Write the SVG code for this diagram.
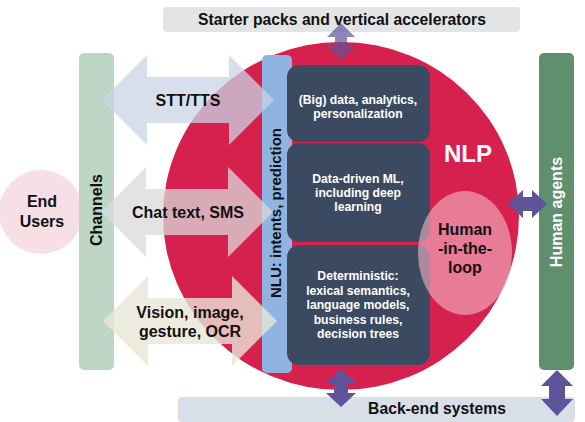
<svg xmlns="http://www.w3.org/2000/svg" width="585" height="422" viewBox="0 0 585 422">
<style>
text{font-family:"Liberation Sans",Arial,sans-serif;font-weight:bold;text-anchor:middle}
.lbl{font-size:15.7px;fill:#111}
.box{fill:#3c4a61}
.bt{font-size:12.2px;fill:#fff}
.pa{fill:#5f5499}
.big{font-size:16px;fill:#111}
</style>
<rect width="585" height="422" fill="#fff"/>
<g id="starter"><rect x="163" y="7" width="357" height="25" rx="4" fill="#e3e4e6"/><text class="lbl" x="342" y="25">Starter packs and vertical accelerators</text></g>
<g id="backend"><rect x="178" y="397" width="397" height="25" rx="4" fill="#d8dfe8"/><text class="lbl" x="437" y="414">Back-end systems</text></g>
<g id="nlp"><ellipse cx="341" cy="216" rx="178" ry="174" fill="#d6214f"/><text x="468" y="162" font-size="24" fill="#fff">NLP</text></g>
<g id="nlu"><rect x="262" y="55" width="30" height="318" rx="5" fill="#8fb4e2"/><text class="lbl" font-size="15" style="font-size:15px" transform="translate(281,213) rotate(-90)">NLU: intents, prediction</text></g>
<g id="box1"><rect class="box" x="287" y="65" width="143" height="77" rx="12"/><text class="bt" x="358" y="104">(Big) data, analytics,</text><text class="bt" x="358" y="118">personalization</text></g>
<g id="box2"><rect class="box" x="287" y="143" width="143" height="99" rx="12"/><text class="bt" x="358" y="183">Data-driven ML,</text><text class="bt" x="358" y="197">including deep</text><text class="bt" x="358" y="211">learning</text></g>
<g id="box3"><rect class="box" x="287" y="245" width="143" height="120" rx="12"/><text class="bt" x="358" y="280">Deterministic:</text><text class="bt" x="358" y="295">lexical semantics,</text><text class="bt" x="358" y="309">language models,</text><text class="bt" x="358" y="324">business rules,</text><text class="bt" x="358" y="338">decision trees</text></g>
<g id="hitl"><ellipse cx="465" cy="253" rx="47" ry="62" fill="#f4b8c6" opacity="0.6"/><text class="big" x="465" y="235">Human</text><text class="big" x="465" y="254">-in-the-</text><text class="big" x="465" y="273">loop</text></g>
<g id="users"><circle cx="41" cy="212" r="42" fill="#f6dfe5"/><text class="big" x="42" y="207">End</text><text class="big" x="42" y="227">Users</text></g>
<g id="channels"><rect x="79" y="53" width="35" height="317" rx="5" fill="#bed6c5"/><text class="lbl" style="font-size:16px" transform="translate(102,210) rotate(-90)">Channels</text></g>
<g id="agents"><rect x="539" y="53" width="35" height="317" rx="5" fill="#5f8f6d"/><text class="lbl" style="fill:#fff;font-size:16px" transform="translate(562,212) rotate(-90)">Human agents</text></g>
<g id="connectors">
<g id="stt"><path d="M102,100 L147,55 L147,77 L229,77 L229,55 L274,100 L229,145 L229,123 L147,123 L147,145 Z" fill="#c8d4e4" opacity="0.75"/><text class="big" x="188" y="106">STT/TTS</text></g>
<g id="chat"><path d="M101,212 L146,167 L146,189 L228,189 L228,167 L273,212 L228,257 L228,235 L146,235 L146,257 Z" fill="#d9d9d9" opacity="0.75"/><text class="big" x="188" y="218">Chat text, SMS</text></g>
<g id="vision"><path d="M103,321 L148,276 L148,298 L232,298 L232,276 L277,321 L232,366 L232,344 L148,344 L148,366 Z" fill="#e8e6d6" opacity="0.8"/><text class="big" x="190" y="318">Vision, image,</text><text class="big" x="190" y="337">gesture, OCR</text></g>
<path class="pa" opacity="0.7" d="M341,23 L355,37 L347,37 L347,46 L355,46 L341,60 L327,46 L335,46 L335,37 L327,37 Z"/>
<path class="pa" d="M341,369 L356,383 L348,383 L348,393 L356,393 L341,407 L326,393 L334,393 L334,383 L326,383 Z"/>
<path class="pa" d="M557,370 L573,386 L565,386 L565,399 L573,399 L557,416 L541,399 L549,399 L549,386 L541,386 Z"/>
<path class="pa" d="M508,204 L523,190 L523,197 L532,197 L532,190 L547,204 L532,218 L532,211 L523,211 L523,218 Z"/>
</g>
</svg>
